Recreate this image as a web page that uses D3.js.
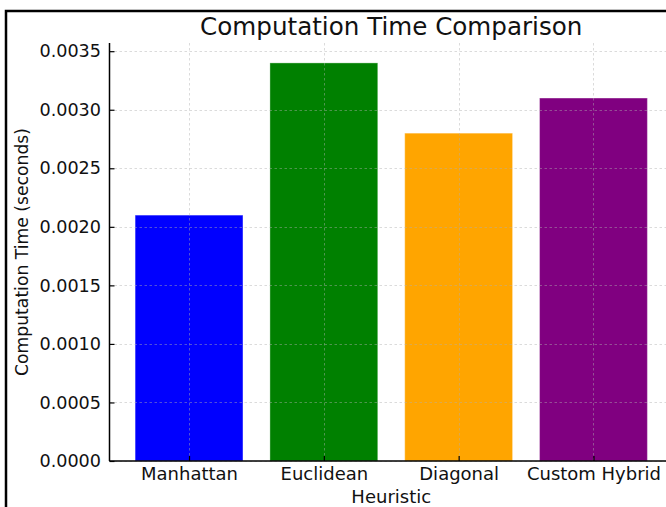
<!DOCTYPE html>
<html>
<head>
<meta charset="utf-8">
<script src="https://cdn.jsdelivr.net/npm/d3@7"></script>
<style>
html,body{margin:0;padding:0;background:#fff;}
svg{display:block;font-family:"DejaVu Sans",sans-serif;}
</style>
</head>
<body>
<svg id="chart" width="666" height="507"></svg>
<script>
const categories = ["Manhattan", "Euclidean", "Diagonal", "Custom Hybrid"];
const values = [0.0021, 0.0034, 0.0028, 0.0031];
const colors = ["#0000ff", "#008000", "#ffa500", "#800080"];
const yTicks = [0, 0.0005, 0.0010, 0.0015, 0.0020, 0.0025, 0.0030, 0.0035];
const titleText = "Computation Time Comparison";
const xLabel = "Heuristic";
const yLabel = "Computation Time (seconds)";

const svg = d3.select("#chart");
const mLeft = 109.5, mRight = 673, mTop = 43, mBottom = 461;

// frame border
svg.append("rect").attr("x", 6).attr("y", 11).attr("width", 700).attr("height", 600)
  .attr("fill", "none").attr("stroke", "#000").attr("stroke-width", 2.5);

const xIdx = d3.scaleLinear().domain([-0.59, 3.59]).range([mLeft, mRight]);
const y = d3.scaleLinear().domain([0, 0.00357]).range([mBottom, mTop]);
const bw = xIdx(0.4) - xIdx(-0.4);

// bars
svg.append("g").selectAll("rect").data(values).join("rect")
  .attr("x", (d, i) => xIdx(i - 0.4))
  .attr("y", d => y(d))
  .attr("width", bw)
  .attr("height", d => mBottom - y(d))
  .attr("fill", (d, i) => colors[i])
  .attr("stroke", "#fff").attr("stroke-opacity", 0.35).attr("stroke-width", 1);

// grid (on top)
const grid = svg.append("g").attr("stroke", "#b0b0b0").attr("stroke-opacity", 0.45)
  .attr("stroke-dasharray", "2.5,2.5").attr("stroke-width", 1);
grid.selectAll("line.h").data(yTicks).join("line").attr("class", "h")
  .attr("x1", mLeft).attr("x2", 666).attr("y1", d => Math.round(y(d)) + 0.5).attr("y2", d => Math.round(y(d)) + 0.5);
grid.selectAll("line.v").data(categories).join("line").attr("class", "v")
  .attr("x1", (d, i) => Math.round(xIdx(i)) + 0.5).attr("x2", (d, i) => Math.round(xIdx(i)) + 0.5)
  .attr("y1", mTop).attr("y2", mBottom);

// axes (ticks pointing inward)
const yAxis = d3.axisLeft(y).tickValues(yTicks).tickFormat(d3.format(".4f")).tickSize(-5).tickPadding(8.5);
const gy = svg.append("g").attr("transform", `translate(${mLeft},0)`).call(yAxis);
gy.select(".domain").attr("stroke", "#000").attr("stroke-width", 1.5).attr("d", `M0,${mTop}V${mBottom}`);
gy.selectAll(".tick line").attr("stroke", "#000").attr("stroke-width", 1.2);
gy.selectAll("text").attr("font-size", 17.6).attr("font-family", "DejaVu Sans").attr("fill", "#111");

const xAxis = d3.axisBottom(xIdx).tickValues([0, 1, 2, 3]).tickFormat(i => categories[i]).tickSize(-5).tickPadding(6);
const gx = svg.append("g").attr("transform", `translate(0,${mBottom})`).call(xAxis);
gx.select(".domain").attr("stroke", "#000").attr("stroke-width", 1.5).attr("d", `M${mLeft},0H${mRight}`);
gx.selectAll(".tick line").attr("stroke", "#000").attr("stroke-width", 1.2);
gx.selectAll("text").attr("font-size", 18).attr("font-family", "DejaVu Sans").attr("fill", "#111");

// titles
const cx = (mLeft + mRight) / 2;
svg.append("text").attr("x", cx).attr("y", 35).attr("text-anchor", "middle")
  .attr("font-size", 24.6).attr("fill", "#111").text(titleText);
svg.append("text").attr("x", cx).attr("y", 503).attr("text-anchor", "middle")
  .attr("font-size", 18).attr("fill", "#111").text(xLabel);
svg.append("text").attr("transform", `translate(28,${(mTop + mBottom) / 2}) rotate(-90)`).attr("text-anchor", "middle")
  .attr("font-size", 17.2).attr("fill", "#111").text(yLabel);
</script>
</body>
</html>
